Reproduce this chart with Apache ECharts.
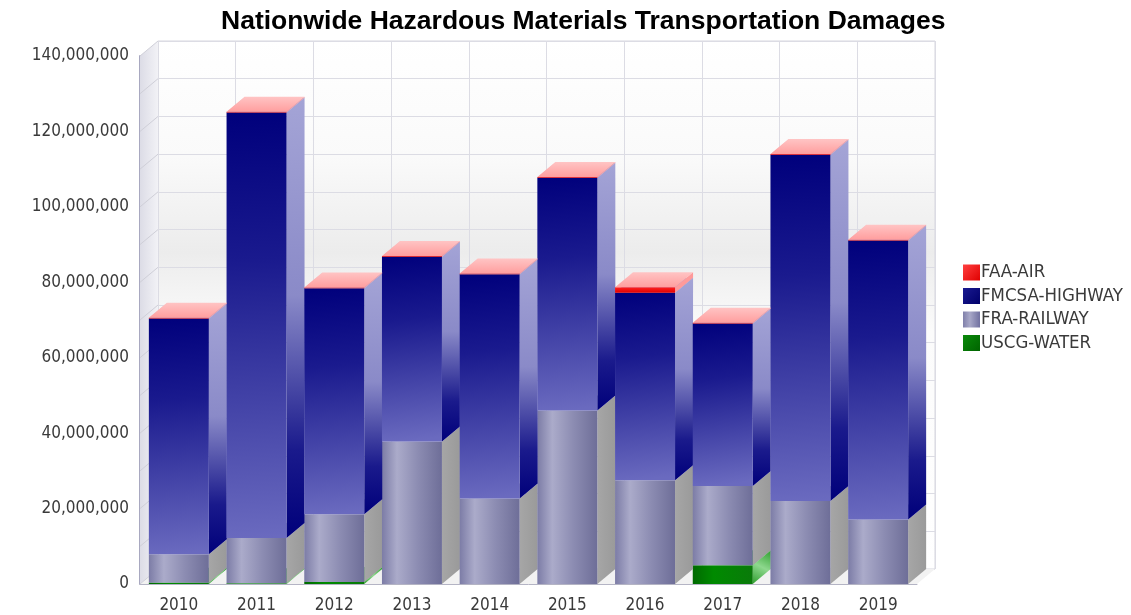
<!DOCTYPE html>
<html>
<head>
<meta charset="utf-8">
<script src="https://cdn.jsdelivr.net/npm/echarts@6/dist/echarts.min.js"></script>
<style>
  html, body { margin: 0; padding: 0; background: #fff; }
  #chart { width: 1131px; height: 615px; }
</style>
</head>
<body>
<div id="chart"></div>
<script>
// categories and stacked values (US dollars)
const years = ['2010', '2011', '2012', '2013', '2014', '2015', '2016', '2017', '2018', '2019'];
const waterDamage = [300000, 200000, 500000, 0, 0, 0, 0, 5000000, 0, 0];
const railDamage = [7600000, 12000000, 18000000, 37800000, 22700000, 46000000, 27500000, 21000000, 22000000, 17100000];
const highwayDamage = [62500000, 112800000, 59900000, 49000000, 59400000, 61700000, 49700000, 43100000, 91800000, 74000000];
const airDamage = [200000, 200000, 200000, 200000, 200000, 200000, 1500000, 200000, 200000, 200000];
const yTicks = [0, 140000000, 20000000];

const DX = 18, DY = -15; // 3d depth
const FONT = "'DejaVu Sans Condensed', 'DejaVu Sans', sans-serif";

const chart = echarts.init(document.getElementById('chart'));

function lin(x, y, x2, y2, stops) {
    return {
        type: 'linear', x: x, y: y, x2: x2, y2: y2,
        colorStops: stops.map(s => ({ offset: s[0], color: s[1] }))
    };
}

// looks of each stacked part
const looks = {
    water: {
        front: lin(0, 0, 1, 0, [[0, '#006a00'], [0.35, '#008a00'], [1, '#0a7a0a']]),
        side: lin(0, 1, 1, 0, [[0, '#2e9e2e'], [0.5, '#8ed88e'], [1, '#2e9e2e']]),
        top: '#5cc05c'
    },
    rail: {
        front: lin(0, 0, 1, 0, [[0, '#7c7ca6'], [0.25, '#ababca'], [0.6, '#8c8cb2'], [1, '#6e6e98']]),
        side: lin(0, 0, 1, 0, [[0, '#a6a6a6'], [1, '#9a9a9a']]),
        top: '#b8b8d4'
    },
    highway: {
        front: lin(0, 0, 0.35, 1, [[0, '#00007c'], [0.35, '#1a1a8e'], [1, '#6a6abf']]),
        side: lin(0, 0, 0, 1, [[0, '#a4a4d6'], [0.45, '#8a8ac8'], [0.8, '#1a1a8c'], [1, '#00007a']]),
        top: '#9a9ad0'
    },
    air: {
        front: lin(0, 0, 0, 1, [[0, '#ff2020'], [1, '#e00000']]),
        side: '#ff9a9a',
        top: lin(0, 1, 0, 0, [[0, '#ff9e9e'], [1, '#ffc4c4']])
    }
};

function makeBar(look) {
    return function (params, api) {
        const i = api.value(0);
        const base = api.value(1);
        const val = api.value(2);
        if (!val) return null;
        const band = api.size([1, 0])[0];
        const w = band * 0.772;
        const pb = api.coord([i, base]);
        const pt = api.coord([i, base + val]);
        const x0 = pb[0] - w / 2, x1 = x0 + w, yb = pb[1], yt = pt[1];
        return {
            type: 'group',
            children: [
                {
                    type: 'polygon',
                    shape: { points: [[x1, yt], [x1 + DX, yt + DY], [x1 + DX, yb + DY], [x1, yb]] },
                    style: { fill: look.side }
                },
                {
                    type: 'rect',
                    shape: { x: x0, y: yt, width: w, height: yb - yt },
                    style: { fill: look.front }
                },
                {
                    type: 'polygon',
                    shape: { points: [[x0, yt], [x1, yt], [x1 + DX, yt + DY], [x0 + DX, yt + DY]] },
                    style: { fill: look.top }
                }
            ]
        };
    };
}

function stackData(values, lowers) {
    return values.map((v, i) => {
        let base = 0;
        lowers.forEach(arr => { base += arr[i]; });
        return [i, base, v];
    });
}

// floor and left wall
function renderWalls(params, api) {
    const band = api.size([1, 0])[0];
    const xl = api.coord([0, 0])[0] - band / 2;
    const xr = api.coord([years.length - 1, 0])[0] + band / 2;
    const y0 = api.coord([0, 0])[1];
    const yTop = api.coord([0, yTicks[1]])[1];
    const children = [
        {
            type: 'polygon',
            shape: { points: [[xl, y0], [xr, y0], [xr + DX, y0 + DY], [xl + DX, y0 + DY]] },
            style: { fill: '#f2f2f2' }
        },
        {
            type: 'polygon',
            shape: { points: [[xl, y0], [xl + DX, y0 + DY], [xl + DX, yTop + DY], [xl, yTop]] },
            style: { fill: lin(0, 0, 1, 0, [[0, '#dcdce6'], [1, '#f2f2f6']]) }
        }
    ];
    for (let v = 0; v <= yTicks[1]; v += yTicks[2] / 2) {
        const y = api.coord([0, v])[1];
        children.push({
            type: 'line',
            shape: { x1: xl, y1: y, x2: xl + DX, y2: y + DY },
            style: { stroke: '#cfcfd8', lineWidth: 1 }
        });
    }
    return { type: 'group', children: children };
}

const option = {
    animation: false,
    title: {
        text: 'Nationwide Hazardous Materials Transportation Damages',
        left: 216,
        top: 3,
        textStyle: { fontFamily: 'Liberation Sans, Arial, sans-serif', fontSize: 26.5, fontWeight: 'bold', color: '#000' }
    },
    legend: {
        orient: 'vertical',
        left: 958,
        top: 258,
        itemWidth: 17,
        itemHeight: 16,
        itemGap: 4.5,
        icon: 'rect',
        textStyle: { fontFamily: FONT, fontSize: 18.5, color: '#3a3a3a', padding: [0, 0, 0, -4] },
        data: [
            { name: 'FAA-AIR', itemStyle: { color: lin(0, 0, 1, 1, [[0, '#ff4040'], [1, '#e00000']]) } },
            { name: 'FMCSA-HIGHWAY', itemStyle: { color: lin(0, 0, 1, 1, [[0, '#1a1a90'], [1, '#00006a']]) } },
            { name: 'FRA-RAILWAY', itemStyle: { color: lin(0, 0, 1, 0, [[0, '#8080aa'], [0.4, '#a8a8c8'], [1, '#7070a0']]) } },
            { name: 'USCG-WATER', itemStyle: { color: lin(0, 0, 1, 1, [[0, '#0a8a0a'], [1, '#006400']]) } }
        ]
    },
    grid: [
        { left: 140, right: 214, top: 56, bottom: 31 },
        {
            left: 158, right: 196, top: 41, bottom: 46, show: true,
            borderColor: '#d6d6de', borderWidth: 1,
            backgroundColor: lin(0, 0, 0, 1, [[0, '#ffffff'], [0.22, '#fafafa'], [0.4, '#ececec'], [0.55, '#fbfbfb'], [1, '#ffffff']])
        }
    ],
    xAxis: [
        {
            type: 'category', gridIndex: 0, data: years,
            axisLine: { show: true, lineStyle: { color: '#b4b4c4', width: 1 } },
            axisTick: { show: false },
            axisLabel: { fontFamily: FONT, fontSize: 17, color: '#3a3a3a', margin: 13 }
        },
        {
            type: 'category', gridIndex: 1, data: years,
            axisLine: { show: false }, axisTick: { show: false }, axisLabel: { show: false },
            splitLine: { show: true, lineStyle: { color: '#dcdce4', width: 1 } }
        }
    ],
    yAxis: [
        {
            type: 'value', gridIndex: 0, min: yTicks[0], max: yTicks[1], interval: yTicks[2],
            axisLine: { show: true, lineStyle: { color: '#a8a8c0', width: 2 } },
            axisTick: { show: false },
            splitLine: { show: false },
            axisLabel: {
                fontFamily: FONT, fontSize: 17, color: '#3a3a3a', margin: 11,
                formatter: v => v.toLocaleString('en-US')
            }
        },
        {
            type: 'value', gridIndex: 1, min: yTicks[0], max: yTicks[1], interval: yTicks[2] / 2,
            axisLine: { show: false }, axisTick: { show: false }, axisLabel: { show: false },
            splitLine: { show: true, lineStyle: { color: '#dcdce4', width: 1 } }
        }
    ],
    series: [
        {
            name: 'walls', type: 'custom', xAxisIndex: 0, yAxisIndex: 0, z: 1, silent: true,
            renderItem: renderWalls, data: [[0]], clip: false
        },
        {
            name: 'USCG-WATER', type: 'custom', z: 2, clip: false,
            itemStyle: { color: '#0a7a0a' },
            renderItem: makeBar(looks.water),
            encode: { x: 0, y: 2 },
            data: stackData(waterDamage, [])
        },
        {
            name: 'FRA-RAILWAY', type: 'custom', z: 3, clip: false,
            itemStyle: { color: '#8888b0' },
            renderItem: makeBar(looks.rail),
            encode: { x: 0, y: 2 },
            data: stackData(railDamage, [waterDamage])
        },
        {
            name: 'FMCSA-HIGHWAY', type: 'custom', z: 4, clip: false,
            itemStyle: { color: '#00007a' },
            renderItem: makeBar(looks.highway),
            encode: { x: 0, y: 2 },
            data: stackData(highwayDamage, [waterDamage, railDamage])
        },
        {
            name: 'FAA-AIR', type: 'custom', z: 5, clip: false,
            itemStyle: { color: '#ff0000' },
            renderItem: makeBar(looks.air),
            encode: { x: 0, y: 2 },
            data: stackData(airDamage, [waterDamage, railDamage, highwayDamage])
        }
    ]
};

chart.setOption(option);
</script>
</body>
</html>
